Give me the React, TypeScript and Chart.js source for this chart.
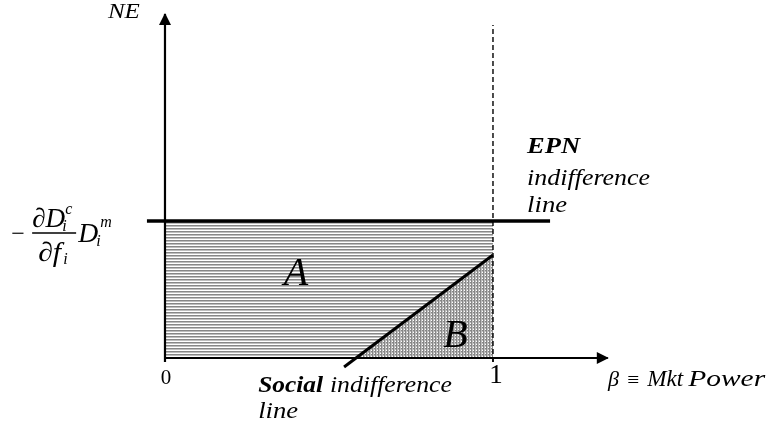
import React, { useEffect, useRef } from "react";
import { Chart, registerables } from "chart.js";

Chart.register(...registerables);

// ---- scale window (data units) ----
const X_MIN = -0.503;
const X_MAX = 1.8415;
const Y_MIN = -0.5255;
const Y_MAX = 2.613;

// ---- data ----
const betaTickValues = [0, 1];
const betaTickLabels = ["0", "1"];
const epnLevel = 1;
const epnLineX = [-0.055, 1.174];
const regionAX = [0, 1];
const regionAY = [1, 1];
const regionBX = [0.583, 1];
const regionBY = [0, 0.752];
const socialLineX = [0.546, 1.0];
const socialLineY = [-0.066, 0.752];
const xAxisX = [0, 1.35];
const yAxisY = [-0.03, 2.51];
const dashedY = [-0.03, 2.43];

const SERIF = '"Liberation Serif"';

function makePattern(vertical: boolean): CanvasPattern | string {
  const c = document.createElement("canvas");
  c.width = 3;
  c.height = 3;
  const g = c.getContext("2d");
  if (!g) return "#bbb";
  const draw = (r: number, col: string) => {
    g.fillStyle = col;
    if (vertical) g.fillRect(r, 0, 1, 3);
    else g.fillRect(0, r, 3, 1);
  };
  draw(0, "rgb(135,135,135)");
  draw(1, "rgb(190,190,190)");
  return g.createPattern(c, "repeat") || "#bbb";
}

function drawText(
  ctx: CanvasRenderingContext2D,
  text: string,
  x: number,
  y: number,
  font: string,
  width?: number,
  align: CanvasTextAlign = "left"
) {
  ctx.save();
  ctx.font = font;
  ctx.textAlign = align;
  ctx.textBaseline = "alphabetic";
  ctx.fillStyle = "#000";
  let sx = 1;
  if (width) {
    const w = ctx.measureText(text).width;
    if (w > 0) sx = width / w;
  }
  ctx.translate(x, y);
  ctx.scale(sx, 1);
  ctx.fillText(text, 0, 0);
  ctx.restore();
}

const annotationPlugin = {
  id: "annotations",
  afterDatasetsDraw(chart: any) {
    const ctx: CanvasRenderingContext2D = chart.ctx;
    const xs = chart.scales.x;
    const ys = chart.scales.y;
    const px = (v: number) => xs.getPixelForValue(v);
    const py = (v: number) => ys.getPixelForValue(v);

    // arrowheads
    ctx.save();
    ctx.fillStyle = "#000";
    const tx = px(xAxisX[1]);
    const ty0 = py(0);
    ctx.beginPath();
    ctx.moveTo(tx + 1, ty0);
    ctx.lineTo(tx - 11, ty0 - 6);
    ctx.lineTo(tx - 11, ty0 + 6);
    ctx.closePath();
    ctx.fill();
    const ax = px(0);
    const ay = py(yAxisY[1]);
    ctx.beginPath();
    ctx.moveTo(ax, ay - 1);
    ctx.lineTo(ax - 6, ay + 11);
    ctx.lineTo(ax + 6, ay + 11);
    ctx.closePath();
    ctx.fill();
    // small ticks below x axis
    ctx.strokeStyle = "#000";
    ctx.lineWidth = 1.5;
    betaTickValues.forEach((v) => {
      ctx.beginPath();
      ctx.moveTo(px(v), py(0));
      ctx.lineTo(px(v), py(0) + 4);
      ctx.stroke();
    });
    ctx.restore();

    // tick labels
    drawText(ctx, betaTickLabels[0], px(betaTickValues[0]) + 1, py(-0.19), `21px ${SERIF}`, undefined, "center");
    drawText(ctx, betaTickLabels[1], px(betaTickValues[1]) + 3, py(-0.182), `27px ${SERIF}`, undefined, "center");

    // axis titles
    drawText(ctx, "NE", px(-0.174), py(2.482), `italic 22px ${SERIF}`, 32);
    drawText(ctx, "β", px(1.351), py(-0.204), `italic 22px ${SERIF}`, 11);
    drawText(ctx, "≡", px(1.409), py(-0.204), `20px ${SERIF}`, 12);
    drawText(ctx, "Mkt", px(1.47), py(-0.204), `italic 23px ${SERIF}`, 36);
    drawText(ctx, "Power", px(1.595), py(-0.204), `italic 23px ${SERIF}`, 77);

    // EPN label
    drawText(ctx, "EPN", px(1.104), py(1.496), `bold italic 23px ${SERIF}`, 53);
    drawText(ctx, "indifference", px(1.104), py(1.263), `italic 24px ${SERIF}`, 123);
    drawText(ctx, "line", px(1.104), py(1.066), `italic 24px ${SERIF}`, 40);

    // Social label
    drawText(ctx, "Social", px(0.284), py(-0.248), `bold italic 23px ${SERIF}`, 65);
    drawText(ctx, "indifference", px(0.503), py(-0.248), `italic 24px ${SERIF}`, 122);
    drawText(ctx, "line", px(0.284), py(-0.438), `italic 24px ${SERIF}`, 40);

    // region labels
    drawText(ctx, "A", px(0.362), py(0.533), `italic 40px ${SERIF}`);
    drawText(ctx, "B", px(0.848), py(0.08), `italic 40px ${SERIF}`);

    // formula at the EPN level: − (∂D_i^c / ∂f_i) D_i^m
    const fx = px(-0.466);
    const fy = py(epnLevel) + 12;
    const big = `italic 27px ${SERIF}`;
    const small = `italic 16px ${SERIF}`;
    drawText(ctx, "−", fx - 1, fy + 8, `24px ${SERIF}`);
    ctx.save();
    ctx.strokeStyle = "#000";
    ctx.lineWidth = 1.3;
    ctx.beginPath();
    ctx.moveTo(fx + 20, fy);
    ctx.lineTo(fx + 64, fy);
    ctx.stroke();
    ctx.restore();
    drawText(ctx, "∂D", fx + 20, fy - 6, big, 33);
    drawText(ctx, "c", fx + 53, fy - 19, small);
    drawText(ctx, "i", fx + 50, fy - 2, small);
    drawText(ctx, "∂f", fx + 26, fy + 28, big, 23);
    drawText(ctx, "i", fx + 51, fy + 31, small);
    drawText(ctx, "D", fx + 66, fy + 9, big, 20);
    drawText(ctx, "m", fx + 88, fy - 6, small);
    drawText(ctx, "i", fx + 84, fy + 13, small);
  },
};

function pts(xs: number[], ys: number[]) {
  return xs.map((x, i) => ({ x, y: ys[i] }));
}

export default function App() {
  const ref = useRef<HTMLCanvasElement | null>(null);

  useEffect(() => {
    if (!ref.current) return;
    const hPat = makePattern(false);
    const vPat = makePattern(true);
    const base = { pointRadius: 0, pointHoverRadius: 0, tension: 0 };
    const chart = new Chart(ref.current, {
      type: "line",
      data: {
        datasets: [
          {
            ...base,
            label: "A",
            data: pts(regionAX, regionAY),
            fill: "origin",
            backgroundColor: hPat as any,
            borderWidth: 0,
            borderColor: "rgba(0,0,0,0)",
            order: 20,
          },
          {
            ...base,
            label: "B",
            data: pts(regionBX, regionBY),
            fill: "origin",
            backgroundColor: vPat as any,
            borderWidth: 0,
            borderColor: "rgba(0,0,0,0)",
            order: 19,
          },
          {
            ...base,
            label: "dashed",
            data: pts([1, 1], dashedY),
            borderColor: "#000",
            borderWidth: 1.4,
            borderDash: [5, 3],
            fill: false,
            order: 5,
          },
          {
            ...base,
            label: "xAxis",
            data: pts(xAxisX, [0, 0]),
            borderColor: "#000",
            borderWidth: 2,
            fill: false,
            order: 4,
          },
          {
            ...base,
            label: "yAxis",
            data: pts([0, 0], yAxisY),
            borderColor: "#000",
            borderWidth: 2.2,
            fill: false,
            order: 3,
          },
          {
            ...base,
            label: "EPN",
            data: pts(epnLineX, [epnLevel, epnLevel]),
            borderColor: "#000",
            borderWidth: 3.5,
            fill: false,
            order: 2,
          },
          {
            ...base,
            label: "Social",
            data: pts(socialLineX, socialLineY),
            borderColor: "#000",
            borderWidth: 3,
            fill: false,
            order: 1,
          },
        ],
      },
      options: {
        animation: false,
        responsive: false,
        maintainAspectRatio: false,
        layout: { padding: 0 },
        scales: {
          x: { type: "linear", min: X_MIN, max: X_MAX, display: false },
          y: { type: "linear", min: Y_MIN, max: Y_MAX, display: false },
        },
        plugins: {
          legend: { display: false },
          tooltip: { enabled: false },
        },
        events: [],
      },
      plugins: [annotationPlugin],
    });
    return () => chart.destroy();
  }, []);

  return (
    <div
      style={{
        position: "fixed",
        left: 0,
        top: 0,
        width: 769,
        height: 430,
        background: "#fff",
      }}
    >
      <canvas ref={ref} width={769} height={430} style={{ width: 769, height: 430, display: "block" }} />
    </div>
  );
}
